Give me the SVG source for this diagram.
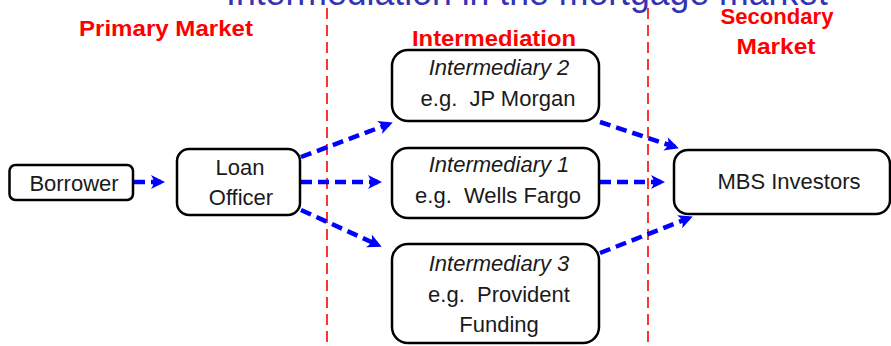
<svg xmlns="http://www.w3.org/2000/svg" width="891" height="346" viewBox="0 0 891 346">
<style>
.box{fill:#fff;stroke:#000;stroke-width:2.5}
.t{font-family:"Liberation Sans",Arial,sans-serif;font-size:22px;fill:#1a1a1a;text-anchor:middle}
.it{font-style:italic}
.lbl{font-family:"Liberation Sans",Arial,sans-serif;font-size:22px;font-weight:bold;fill:#ff0000;text-anchor:middle}
.sep{stroke:#ff0000;stroke-width:1.6;stroke-dasharray:11 6;fill:none}
.arr{stroke:#0000ff;stroke-width:4.5;stroke-dasharray:11 6;fill:none;marker-end:url(#ah)}
</style>
<defs>
<marker id="ah" markerUnits="userSpaceOnUse" markerWidth="20" markerHeight="20" viewBox="-14 -8 20 16" refX="0" refY="0" orient="auto">
<path d="M4,0 L-10,-7 Q-5,0 -10,7 Z" fill="#0000ff"/>
</marker>
</defs>
<text x="527" y="5" font-family="'Liberation Sans',Arial,sans-serif" font-size="36" fill="#3333b3" text-anchor="middle" textLength="602" lengthAdjust="spacingAndGlyphs">Intermediation in the mortgage market</text>
<g id="separators">
<line class="sep" x1="327" y1="8" x2="327" y2="346"/>
<line class="sep" x1="648" y1="8" x2="648" y2="346"/>
</g>
<g id="labels">
<text class="lbl" x="166" y="36" textLength="174" lengthAdjust="spacingAndGlyphs">Primary Market</text>
<text class="lbl" x="494" y="46" textLength="164" lengthAdjust="spacingAndGlyphs">Intermediation</text>
<text class="lbl" x="777" y="24" textLength="113" lengthAdjust="spacingAndGlyphs">Secondary</text>
<text class="lbl" x="776" y="54" textLength="79" lengthAdjust="spacingAndGlyphs">Market</text>
</g>
<g id="connectors">
<line class="arr" x1="134" y1="182" x2="161" y2="182"/>
<line class="arr" x1="301" y1="157" x2="389" y2="124"/>
<line class="arr" x1="301" y1="182" x2="378" y2="182"/>
<line class="arr" x1="301" y1="210" x2="378" y2="245"/>
<line class="arr" x1="600" y1="122" x2="675" y2="147"/>
<line class="arr" x1="600" y1="182" x2="661" y2="182"/>
<line class="arr" x1="600" y1="253" x2="689" y2="218"/>
</g>
<g id="borrower">
<rect class="box" x="9.5" y="165" width="123.5" height="35" rx="6"/>
<text class="t" x="74" y="191">Borrower</text>
</g>
<g id="loan-officer">
<rect class="box" x="177" y="149" width="123" height="66" rx="12"/>
<text class="t" x="240" y="175">Loan</text>
<text class="t" x="241" y="205">Officer</text>
</g>
<g id="intermediary2">
<rect class="box" x="392" y="50" width="207" height="71" rx="16"/>
<text class="t it" x="499" y="75">Intermediary 2</text>
<text class="t" x="498" y="106">e.g.&#160; JP Morgan</text>
</g>
<g id="intermediary1">
<rect class="box" x="392" y="148" width="207" height="70" rx="16"/>
<text class="t it" x="499" y="172">Intermediary 1</text>
<text class="t" x="498" y="203">e.g.&#160; Wells Fargo</text>
</g>
<g id="intermediary3">
<rect class="box" x="392" y="244" width="207" height="99" rx="16"/>
<text class="t it" x="499" y="271">Intermediary 3</text>
<text class="t" x="499" y="302">e.g.&#160; Provident</text>
<text class="t" x="499" y="332">Funding</text>
</g>
<g id="mbs-investors">
<rect class="box" x="674" y="150" width="216" height="64" rx="14"/>
<text class="t" x="789" y="189">MBS Investors</text>
</g>
</svg>
